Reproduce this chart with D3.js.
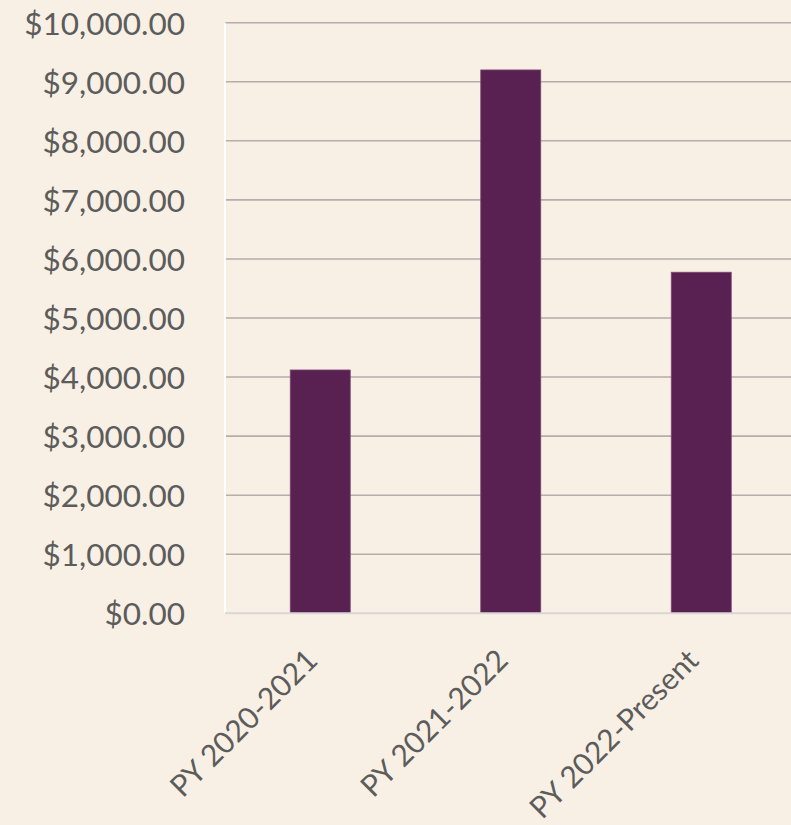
<!DOCTYPE html>
<html>
<head>
<meta charset="utf-8">
<script src="https://cdn.jsdelivr.net/npm/d3@7"></script>
<style>
  html, body { margin: 0; padding: 0; background: #f8f0e4; }
  svg { display: block; }
</style>
</head>
<body>
<div id="chart"></div>
<script>
const categories = ["PY 2020-2021", "PY 2021-2022", "PY 2022-Present"];
const values = [4120, 9200, 5775];
const yTicks = [0, 1000, 2000, 3000, 4000, 5000, 6000, 7000, 8000, 9000, 10000];

const W = 791, H = 825;
const margin = { left: 225, top: 22.7, right: W - 796.5, bottom: H - 613.3 };

const svg = d3.select("#chart").append("svg")
  .attr("width", W).attr("height", H);

svg.append("rect").attr("width", W).attr("height", H).attr("fill", "#f8f0e4");

const x = d3.scaleBand()
  .domain(categories)
  .range([margin.left, 796.5])
  .paddingInner(0.685)
  .paddingOuter(0.3425);

const y = d3.scaleLinear()
  .domain([0, 10000])
  .range([613.3, 22.7]);

const fmt = d3.format("$,.2f");
const FONT = "Lato, 'Open Sans', sans-serif";

// gridlines
svg.append("g")
  .selectAll("line")
  .data(yTicks.filter(d => d > 0))
  .join("line")
  .attr("x1", margin.left).attr("x2", W)
  .attr("y1", d => y(d)).attr("y2", d => y(d))
  .attr("stroke", "#b5aeaa").attr("stroke-width", 1.6);

// left axis line (white)
svg.append("line")
  .attr("x1", margin.left).attr("x2", margin.left)
  .attr("y1", y(10000)).attr("y2", y(0))
  .attr("stroke", "#ffffff").attr("stroke-width", 2);

// y axis labels
const yAxis = d3.axisLeft(y).tickValues(yTicks).tickFormat(fmt).tickSize(0).tickPadding(40);
const gy = svg.append("g").attr("transform", `translate(${margin.left},0)`).call(yAxis);
gy.select(".domain").remove();
gy.selectAll("text")
  .attr("fill", "#5c5c5c")
  .style("font-family", FONT)
  .style("font-weight", 400)
  .style("font-size", "31.5px")
  .attr("dy", "0.36em");

// bars
svg.append("g")
  .selectAll("rect")
  .data(categories.map((c, i) => ({ c, v: values[i] })))
  .join("rect")
  .attr("x", d => x(d.c))
  .attr("width", x.bandwidth())
  .attr("y", d => y(d.v))
  .attr("height", d => y(0) - y(d.v))
  .attr("fill", "#582152")
  .attr("stroke", "#7a4a73")
  .attr("stroke-width", 0.8);

// zero baseline
svg.append("line")
  .attr("x1", margin.left).attr("x2", W)
  .attr("y1", y(0)).attr("y2", y(0))
  .attr("stroke", "#d9d6d4").attr("stroke-width", 2);

// x axis labels
const xAxis = d3.axisBottom(x).tickSize(0).tickPadding(0);
const gx = svg.append("g").attr("transform", `translate(0,${y(0)})`).call(xAxis);
gx.select(".domain").remove();
gx.selectAll("text")
  .attr("fill", "#5c5c5c")
  .style("font-family", FONT)
  .style("font-weight", 400)
  .style("font-size", "30px")
  .attr("text-anchor", "end")
  .attr("y", 0)
  .attr("dy", "0")
  .attr("transform", "translate(-1,49) rotate(-45)");
</script>
</body>
</html>
